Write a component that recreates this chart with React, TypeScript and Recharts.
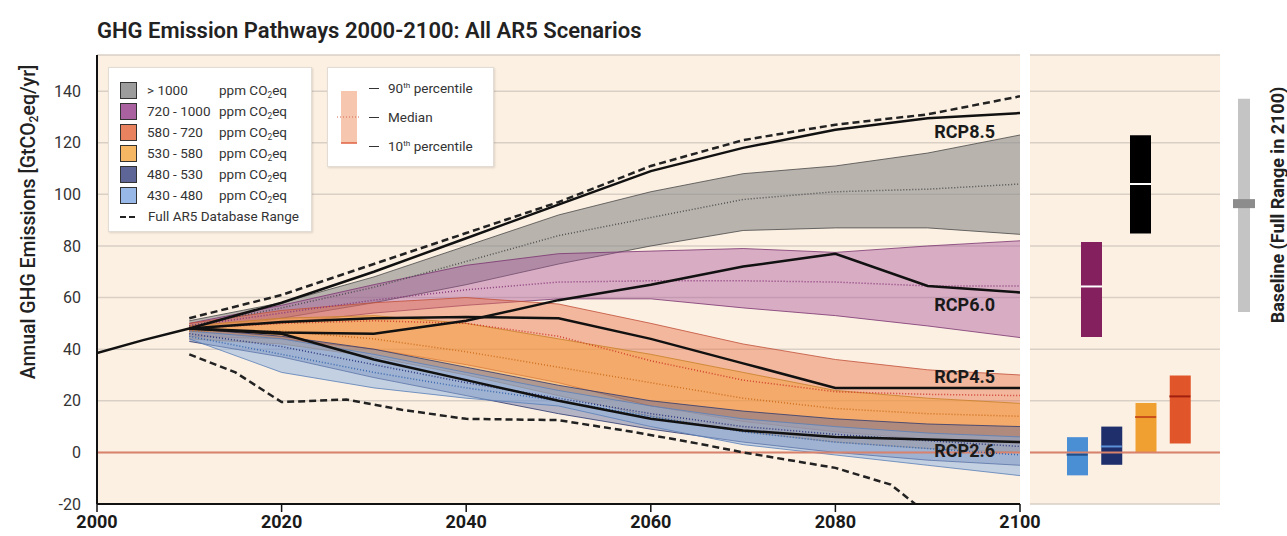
import React from 'react'
import {
  ComposedChart,
  Area,
  Line,
  Bar,
  Cell,
  Scatter,
  XAxis,
  YAxis,
  CartesianGrid,
  ReferenceLine,
} from 'recharts'

const FONT = '"Liberation Sans Narrow", Roboto, "Liberation Sans", sans-serif'

// axes
const yTicks = [-20, 0, 20, 40, 60, 80, 100, 120, 140]
const xTicks = [2000, 2020, 2040, 2060, 2080, 2100]

// concentration categories (ppm CO2eq in 2100)
const categoryNames = ['>1000', '720 - 1000', '580 - 720', '530 - 580', '480 - 530', '430 - 480']

// years of the scenario bands
const bandYears = [2010, 2020, 2030, 2040, 2050, 2060, 2070, 2080, 2090, 2100]

// >1000 ppm
const over1000Lo = [47, 52, 58, 65, 73, 80, 86, 87, 87, 84.5]
const over1000Med = [49, 56, 64, 74, 84, 91, 98, 101, 102, 104]
const over1000Hi = [51, 58, 68, 80, 92, 101, 108, 111, 116, 123]

// 720-1000 ppm
const ppm720Lo = [48, 50, 54, 57, 59.5, 59.5, 56, 53, 49, 44.5]
const ppm720Med = [49, 54, 59, 63, 66, 66.5, 66.5, 66, 64.5, 64.5]
const ppm720Hi = [50, 57, 65, 72.5, 77, 78, 79, 77.5, 80, 82]

// 580-720 ppm
const ppm580Lo = [45, 44, 40, 34, 27, 18, 12, 8, 5, 3.5]
const ppm580Med = [48, 50, 51, 50, 45, 35.5, 28, 23.5, 22.5, 22]
const ppm580Hi = [50, 55, 58, 60, 57.5, 50, 42, 36, 32, 30]

// 530-580 ppm
const ppm530Lo = [44, 42, 37, 30, 22, 14, 8, 4, 1.5, 0]
const ppm530Med = [47, 47, 44, 39, 33, 27, 21, 17, 15, 14]
const ppm530Hi = [49, 52, 53, 50, 44, 38, 31, 24, 21, 19]

// 480-530 ppm
const ppm480Lo = [43, 37, 29, 22, 15, 9, 4, 0, -3, -5]
const ppm480Med = [46, 41, 34, 27, 21, 15, 10, 7, 4.5, 2.3]
const ppm480Hi = [48, 45, 40, 33, 26, 20, 16, 13, 11, 10]

// 430-480 ppm
const ppm430Lo = [44, 31, 25, 21, 18, 10, 3, -1, -5, -9]
const ppm430Med = [45, 38, 31, 25, 20, 14, 8, 4, 1.5, -1]
const ppm430Hi = [47, 44, 38, 31, 24, 18, 13, 10, 7.5, 6]

// historical emissions
const histYears = [2000, 2005, 2010]
const histValues = [38.5, 43.5, 48]

// RCP pathways
const rcpYears = [2010, 2020, 2030, 2040, 2050, 2060, 2070, 2080, 2090, 2100]
const rcp85 = [48, 58, 70, 83, 96, 109, 118, 125, 129.5, 131.5]
const rcp60 = [48, 46.5, 46, 51, 59, 65, 72, 77, 64.5, 62]
const rcp45 = [48, 50.5, 52, 52.5, 52, 44, 34.5, 25, 25, 25]
const rcp26 = [48, 46, 36, 28, 20, 13, 8.5, 6, 5, 4]

// full AR5 database range
const rangeUpperYears = [2010, 2020, 2030, 2040, 2050, 2060, 2070, 2080, 2090, 2100]
const rangeUpperValues = [52, 61, 73, 85, 97, 111, 121, 127, 131, 138]
const rangeLowerYears = [2010, 2015, 2020, 2027, 2033, 2040, 2050, 2058, 2065, 2070, 2080, 2086, 2089]
const rangeLowerValues = [38, 31, 19.5, 20.5, 16.5, 13, 12.5, 8, 3.5, 0, -6, -12.5, -21]

// RCP labels
const rcpNames = ['RCP8.5', 'RCP6.0', 'RCP4.5', 'RCP2.6']
const rcpLabelYears = [2094, 2094, 2094, 2094]
const rcpLabelValues = [124.5, 57.5, 29.5, 0.8]

// 2100 ranges (right panel), same order as categoryNames
const panelLo = [84.8, 44.7, 3.4, 0.1, -4.8, -8.9]
const panelMed = [104, 64.3, 21.7, 13.7, 2.3, -0.9]
const panelHi = [122.9, 81.5, 29.8, 19.1, 10, 5.9]

// baseline full range in 2100
const baselineLo = 54.4
const baselineMed = 96.4
const baselineHi = 137

const styles = [
  { fill: '#8a8a8a', op: 0.6, stroke: '#4a4a4a', med: '#505050', swatch: '#9c9c9c', bar: '#000000', barMed: '#ffffff' },
  { fill: '#a8509a', op: 0.42, stroke: '#7a3570', med: '#8a3a7a', swatch: '#a9619f', bar: '#85205f', barMed: '#ffffff' },
  { fill: '#e8704a', op: 0.45, stroke: '#c0503a', med: '#d04030', swatch: '#e8825f', bar: '#e0552a', barMed: '#a02010' },
  { fill: '#f3a040', op: 0.55, stroke: '#c88028', med: '#d07020', swatch: '#f6b765', bar: '#f0a030', barMed: '#c8501a' },
  { fill: '#4a5a9a', op: 0.4, stroke: '#2e3a70', med: '#2e3a80', swatch: '#5e6697', bar: '#1e2f6b', barMed: '#5b8fd6' },
  { fill: '#8ab0e0', op: 0.5, stroke: '#5a80b8', med: '#3a6ab0', swatch: '#98b8e8', bar: '#4a8fd4', barMed: '#1f4f8a' },
]

const bands = [
  { lo: over1000Lo, med: over1000Med, hi: over1000Hi },
  { lo: ppm720Lo, med: ppm720Med, hi: ppm720Hi },
  { lo: ppm580Lo, med: ppm580Med, hi: ppm580Hi },
  { lo: ppm530Lo, med: ppm530Med, hi: ppm530Hi },
  { lo: ppm480Lo, med: ppm480Med, hi: ppm480Hi },
  { lo: ppm430Lo, med: ppm430Med, hi: ppm430Hi },
]

const toRows = (years: number[], values: number[]) =>
  years.map((year, i) => ({ year, value: values[i] }))

const bandRows = (b: { lo: number[]; med: number[]; hi: number[] }) =>
  bandYears.map((year, i) => ({ year, range: [b.lo[i], b.hi[i]], med: b.med[i] }))

const rcpSeries = [rcp85, rcp60, rcp45, rcp26]
const rcpLabelRows = rcpNames.map((name, i) => ({ name, year: rcpLabelYears[i], value: rcpLabelValues[i] }))

const panelRow = (i: number) => ({
  name: categoryNames[i],
  idx: i,
  range: [panelLo[i], panelHi[i]],
  med: panelMed[i],
})
// bottom row: the four lower categories, top row: the two high ones
const panelLowRows = [5, 4, 3, 2].map(panelRow)
const panelUpRows = [1, 0].map(panelRow)
const baselineRows = [{ name: 'Baseline', range: [baselineLo, baselineHi], med: baselineMed }]

const Y_DOMAIN: [number, number] = [-20, 154]
const BG = '#fcf0e2'
const GRID = '#d9cfc5'
const ZERO = '#d9826c'

const Sub2 = () => (
  <sub style={{ fontSize: '0.62em', verticalAlign: '-0.3em', lineHeight: 0 }}>2</sub>
)

const MedianMark = (props: any) => {
  const { cx, cy, payload } = props
  return (
    <line
      x1={cx - 10.5}
      x2={cx + 10.5}
      y1={cy}
      y2={cy}
      stroke={styles[payload.idx].barMed}
      strokeWidth={2}
    />
  )
}

const RcpLabel = (props: any) => {
  const { cx, cy, payload } = props
  return (
    <text
      x={cx}
      y={cy}
      textAnchor="middle"
      dominantBaseline="central"
      fontFamily={FONT}
      fontSize={18}
      fontWeight={700}
      fill="#1a1a1a"
    >
      {payload.name}
    </text>
  )
}

const PanelChart = ({ rows, padding, grid }: any) => (
  <ComposedChart
    width={190}
    height={536}
    data={rows}
    margin={{ top: 55, right: 0, bottom: 32, left: 0 }}
  >
    {grid && (
      <CartesianGrid vertical={false} stroke={GRID} strokeWidth={1.5} fill={BG} fillOpacity={1} />
    )}
    <XAxis dataKey="name" hide padding={padding} />
    <YAxis hide type="number" domain={Y_DOMAIN} ticks={yTicks} allowDataOverflow />
    {grid && <ReferenceLine y={0} stroke={ZERO} strokeWidth={2} />}
    <Bar dataKey="range" barSize={21} isAnimationActive={false}>
      {rows.map((r: any) => (
        <Cell key={r.name} fill={styles[r.idx].bar} />
      ))}
    </Bar>
    <Scatter dataKey="med" shape={MedianMark} isAnimationActive={false} />
  </ComposedChart>
)

const legendText: React.CSSProperties = {
  fontFamily: FONT,
  fontSize: 13.5,
  color: '#333',
  lineHeight: '21px',
  whiteSpace: 'nowrap',
}

const LegendCategories = () => (
  <div
    style={{
      position: 'absolute',
      left: 108,
      top: 67,
      width: 204,
      height: 165,
      background: '#fff',
      border: '1px solid #e2dcd5',
      boxShadow: '1px 1px 2px rgba(0,0,0,0.12)',
      boxSizing: 'border-box',
      paddingTop: 12,
    }}
  >
    {categoryNames.map((name, i) => (
      <div key={name} style={{ ...legendText, display: 'flex', alignItems: 'center', height: 21 }}>
        <span
          style={{
            display: 'inline-block',
            marginLeft: 11,
            width: 15,
            height: 15,
            background: styles[i].swatch,
            border: '1.5px solid #333',
          }}
        />
        <span style={{ marginLeft: 10, width: 72 }}>{name.replace('>', '> ')}</span>
        <span>
          ppm CO<Sub2 />eq
        </span>
      </div>
    ))}
    <div style={{ ...legendText, display: 'flex', alignItems: 'center', height: 21 }}>
      <svg width={30} height={10} style={{ marginLeft: 9 }}>
        <line x1={2} x2={20} y1={5} y2={5} stroke="#222" strokeWidth={2} strokeDasharray="6 3" />
      </svg>
      <span>Full AR5 Database Range</span>
    </div>
  </div>
)

const LegendPercentiles = () => (
  <div
    style={{
      position: 'absolute',
      left: 327,
      top: 67,
      width: 167,
      height: 100,
      background: '#fff',
      border: '1px solid #e2dcd5',
      boxShadow: '1px 1px 2px rgba(0,0,0,0.12)',
      boxSizing: 'border-box',
    }}
  >
    <svg width={30} height={100} style={{ position: 'absolute', left: 8, top: 0 }}>
      <rect x={5} y={23} width={16} height={52} fill="#f7c6ae" />
      <line x1={1} x2={25} y1={49} y2={49} stroke="#d06a50" strokeWidth={1} strokeDasharray="1 2" />
      <line x1={5} x2={21} y1={75} y2={75} stroke="#e06040" strokeWidth={1.5} />
    </svg>
    {[
      ['90', 'th', ' percentile'],
      ['', '', 'Median'],
      ['10', 'th', ' percentile'],
    ].map((t, i) => (
      <div
        key={i}
        style={{
          ...legendText,
          position: 'absolute',
          left: 41,
          top: 10 + i * 29,
          display: 'flex',
          alignItems: 'center',
        }}
      >
        <span style={{ display: 'inline-block', width: 10, height: 1.5, background: '#333', marginRight: 9 }} />
        <span>
          {t[0]}
          {t[1] && <sup style={{ fontSize: '0.6em', lineHeight: 0 }}>{t[1]}</sup>}
          {t[2]}
        </span>
      </div>
    ))}
  </div>
)

export default function App() {
  return (
    <div style={{ position: 'absolute', left: 0, top: 0, width: 1287, height: 536, background: '#fff' }}>
      <div
        style={{
          position: 'absolute',
          left: 97,
          top: 19,
          fontFamily: FONT,
          fontSize: 22,
          fontWeight: 600,
          color: '#222',
          lineHeight: '24px',
          whiteSpace: 'nowrap',
        }}
      >
        GHG Emission Pathways 2000-2100: All AR5 Scenarios
      </div>

      <div
        style={{
          position: 'absolute',
          left: 28,
          top: 222,
          transform: 'translate(-50%, -50%) rotate(-90deg)',
          fontFamily: FONT,
          fontSize: 19.5,
          fontWeight: 500,
          color: '#222',
          whiteSpace: 'nowrap',
        }}
      >
        Annual GHG Emissions [GtCO<Sub2 />eq/yr]
      </div>

      <div style={{ position: 'absolute', left: 0, top: 0 }}>
        <ComposedChart width={1060} height={536} margin={{ top: 55, right: 40, bottom: 2, left: 57 }}>
          <CartesianGrid vertical={false} stroke={GRID} strokeWidth={1.5} fill={BG} fillOpacity={1} />
          <XAxis
            type="number"
            dataKey="year"
            domain={[2000, 2100]}
            ticks={xTicks}
            allowDataOverflow
            height={30}
            tickSize={8}
            tickMargin={3}
            tick={{ fontFamily: FONT, fontSize: 18, fontWeight: 700, fill: '#1a1a1a' }}
            axisLine={{ stroke: '#111', strokeWidth: 2 }}
            tickLine={{ stroke: '#111', strokeWidth: 1.5 }}
          />
          <YAxis
            type="number"
            domain={Y_DOMAIN}
            ticks={yTicks}
            allowDataOverflow
            width={40}
            tickSize={0}
            tickMargin={16}
            tick={{ fontFamily: FONT, fontSize: 16, fill: '#333' }}
            axisLine={{ stroke: '#111', strokeWidth: 2 }}
            tickLine={false}
          />
          <ReferenceLine y={0} stroke={ZERO} strokeWidth={2} />

          {bands.map((b, i) => (
            <Area
              key={`band-${i}`}
              data={bandRows(b)}
              dataKey="range"
              type="linear"
              fill={styles[i].fill}
              fillOpacity={styles[i].op}
              stroke={styles[i].stroke}
              strokeWidth={1}
              strokeOpacity={0.8}
              dot={false}
              activeDot={false}
              isAnimationActive={false}
            />
          ))}
          {bands.map((b, i) => (
            <Line
              key={`med-${i}`}
              data={bandRows(b)}
              dataKey="med"
              type="linear"
              stroke={styles[i].med}
              strokeWidth={1.5}
              strokeDasharray="1 2"
              dot={false}
              activeDot={false}
              isAnimationActive={false}
            />
          ))}

          <Line
            data={toRows(histYears, histValues)}
            dataKey="value"
            type="linear"
            stroke="#111"
            strokeWidth={2.5}
            dot={false}
            activeDot={false}
            isAnimationActive={false}
          />
          {rcpSeries.map((s, i) => (
            <Line
              key={`rcp-${i}`}
              data={toRows(rcpYears, s)}
              dataKey="value"
              type="linear"
              stroke="#111"
              strokeWidth={2.5}
              dot={false}
              activeDot={false}
              isAnimationActive={false}
            />
          ))}
          <Line
            data={toRows(rangeUpperYears, rangeUpperValues)}
            dataKey="value"
            type="linear"
            stroke="#222"
            strokeWidth={2.5}
            strokeDasharray="7 4"
            dot={false}
            activeDot={false}
            isAnimationActive={false}
          />
          <Line
            data={toRows(rangeLowerYears, rangeLowerValues)}
            dataKey="value"
            type="linear"
            stroke="#222"
            strokeWidth={2.5}
            strokeDasharray="7 4"
            dot={false}
            activeDot={false}
            isAnimationActive={false}
          />
          <Scatter data={rcpLabelRows} dataKey="value" shape={RcpLabel} isAnimationActive={false} />
        </ComposedChart>
      </div>

      <div style={{ position: 'absolute', left: 1030, top: 0 }}>
        <PanelChart rows={panelLowRows} padding={{ left: 30, right: 23 }} grid />
      </div>
      <div style={{ position: 'absolute', left: 1030, top: 0 }}>
        <PanelChart rows={panelUpRows} padding={{ left: 37, right: 55 }} grid={false} />
      </div>

      <div style={{ position: 'absolute', left: 1226, top: 0 }}>
        <ComposedChart
          width={36}
          height={536}
          data={baselineRows}
          margin={{ top: 55, right: 0, bottom: 32, left: 0 }}
        >
          <XAxis dataKey="name" hide />
          <YAxis hide type="number" domain={Y_DOMAIN} allowDataOverflow />
          <Bar dataKey="range" barSize={12} fill="#c4c4c4" isAnimationActive={false} />
          <Scatter
            dataKey="med"
            isAnimationActive={false}
            shape={(p: any) => <rect x={p.cx - 11} y={p.cy - 4.5} width={22} height={9} fill="#8c8c8c" />}
          />
        </ComposedChart>
      </div>

      <div
        style={{
          position: 'absolute',
          left: 1277,
          top: 205,
          transform: 'translate(-50%, -50%) rotate(-90deg)',
          fontFamily: FONT,
          fontSize: 18,
          fontWeight: 700,
          color: '#222',
          whiteSpace: 'nowrap',
        }}
      >
        Baseline (Full Range in 2100)
      </div>

      <LegendCategories />
      <LegendPercentiles />
    </div>
  )
}
